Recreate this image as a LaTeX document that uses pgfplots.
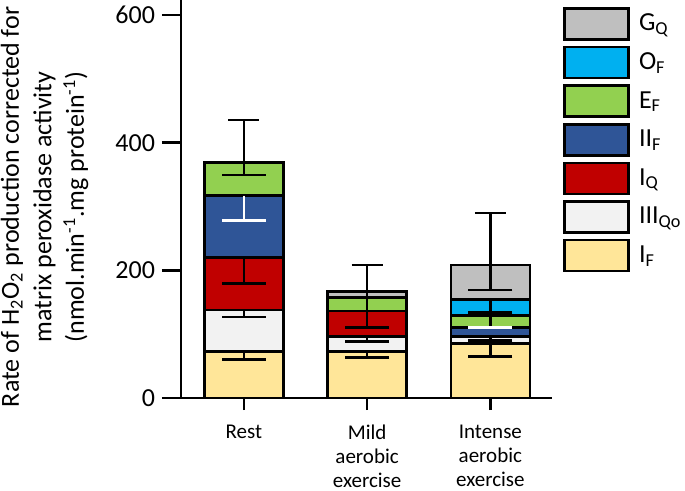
\documentclass[border=0pt]{standalone}
\usepackage{fontspec}
\setmainfont{Carlito}
\usepackage{pgfplots}
\pgfplotsset{compat=1.18}
\definecolor{cGQ}{HTML}{BFBFBF}
\definecolor{cOF}{HTML}{00B0F0}
\definecolor{cEF}{HTML}{92D050}
\definecolor{cIIF}{HTML}{2F5597}
\definecolor{cIQ}{HTML}{C00000}
\definecolor{cIIIQo}{HTML}{F2F2F2}
\definecolor{cIF}{HTML}{FFE699}
\begin{document}
\begin{tikzpicture}
\begin{axis}[
  name=ax,
  scale only axis, width=185.5pt, height=199pt,
  ybar stacked, bar width=39.5pt,
  xmin=-0.51, xmax=2.5, ymin=0, ymax=623.5,
  axis x line*=bottom, axis y line*=left,
  axis line style={line width=1.2pt,-},
  xtick={0,1,2},
  xticklabels={Rest, Mild\\aerobic\\exercise, Intense\\aerobic\\exercise},
  xticklabel style={align=center, font=\fontsize{10.5}{12}\selectfont, anchor=north, inner sep=0pt, yshift=-4pt},
  ytick={0,200,400,600},
  yticklabel style={font=\fontsize{13}{13}\selectfont},
  /pgf/number format/assume math mode=true,
  tick align=outside, major tick length=9.5pt,
  xtick style={/pgfplots/major tick length=6pt},
  tick style={line width=1.2pt, black},
  ylabel={Rate of H\textsubscript{2}O\textsubscript{2} production corrected for\\matrix peroxidase activity\\(nmol.min\textsuperscript{-1}.mg protein\textsuperscript{-1})},
  ylabel style={at={(axis description cs:-0.249,0.48)}, anchor=south, inner sep=0pt, align=center, font=\fontsize{13}{16.2}\selectfont},
  error bars/y dir=minus, error bars/y explicit,
  error bars/error mark options={rotate=90, mark size=11pt, line width=1.3pt, black},
  error bars/error bar style={line width=1.3pt, black},
  reverse legend,
  legend cell align=left,
  legend style={at={(rel axis cs:1.0297,0.983)}, anchor=north west, draw=none, fill=none, inner sep=0pt,
    font=\fontsize{13}{13}\selectfont, row sep=2.5pt,
    /tikz/every odd column/.append style={column sep=2.5pt}},
  legend image code/.code={\draw[#1, line width=1.3pt] (0pt,-7.75pt) rectangle (32pt,7.75pt);},
]
\addplot[fill=cIF, draw=black, line width=1.3pt] coordinates {(0,72.5) +- (0,12) (1,72.5) +- (0,9) (2,85.6) +- (0,21)};
\addplot[fill=cIIIQo, draw=black, line width=1.3pt] coordinates {(0,65.5) +- (0,11) (1,23.5) +- (0,7) (2,10.4) +- (0,6.3)};
\addplot[fill=cIQ, draw=black, line width=1.3pt] coordinates {(0,82.5) +- (0,41.5) (1,40.6) +- (0,26) (2,0.5) +- (0,0)};
\addplot[fill=cIIF, draw=black, line width=1.3pt,
  error bars/error mark options={rotate=90, mark size=11pt, line width=1.3pt, white},
  error bars/error bar style={line width=1.3pt, white}] coordinates {(0,96.5) +- (0,39) (1,0) +- (0,0) (2,14.1) +- (0,0)};
\addplot[fill=cEF, draw=black, line width=1.3pt] coordinates {(0,52.4) +- (0,20) (1,21) +- (0,21) (2,18.4) +- (0,18.4)};
\addplot[fill=cOF, draw=black, line width=1.3pt] coordinates {(0,0) +- (0,0) (1,0) +- (0,0) (2,25.6) +- (0,21)};
\addplot[fill=cGQ, draw=black, line width=1.3pt] coordinates {(0,0) +- (0,0) (1,9) +- (0,9) (2,54) +- (0,39.5)};
\addplot[draw=none, fill=none, forget plot,
  error bars/y dir=plus,
  error bars/error mark options={rotate=90, mark size=7.75pt, line width=1.3pt, black}] coordinates {(0,0) +- (0,66.3) (1,0) +- (0,42) (2,0) +- (0,81)};
\legend{I\textsubscript{F}, III\textsubscript{Qo}, I\textsubscript{Q}, II\textsubscript{F}, E\textsubscript{F}, O\textsubscript{F}, G\textsubscript{Q}}
\end{axis}
\path (ax.south west) ++(-90.5pt,-46pt) coordinate (bbbl);
\path (ax.north east) ++(66.5pt,0pt) coordinate (bbtr);
\pgfresetboundingbox
\useasboundingbox (bbbl) rectangle (bbtr);
\end{tikzpicture}
\end{document}
